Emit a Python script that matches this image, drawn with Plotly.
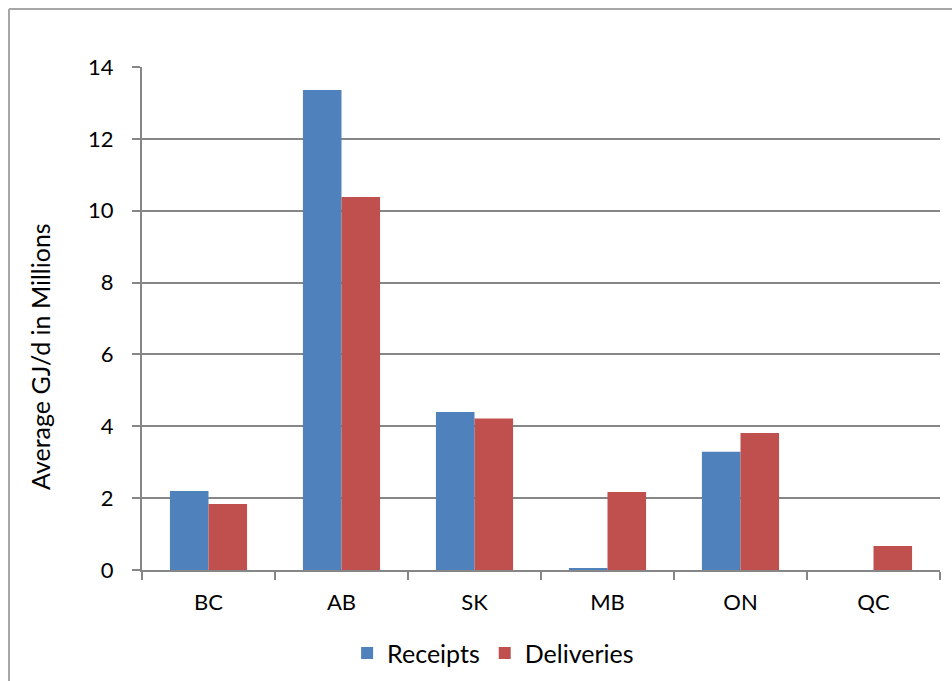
import plotly.graph_objects as go

provinces = ["BC", "AB", "SK", "MB", "ON", "QC"]
receipts = [2.20, 13.36, 4.40, 0.05, 3.29, 0.0]
deliveries = [1.84, 10.38, 4.22, 2.17, 3.81, 0.67]
y_ticks = [0, 2, 4, 6, 8, 10, 12, 14]

BLUE = "#4F81BD"
RED = "#C0504D"
GRID = "#868686"
FONT = "Lato, Open Sans, sans-serif"

fig = go.Figure()
fig.add_trace(go.Bar(name="Receipts", x=provinces, y=receipts,
                     marker=dict(color=BLUE, line=dict(width=0))))
fig.add_trace(go.Bar(name="Deliveries", x=provinces, y=deliveries,
                     marker=dict(color=RED, line=dict(width=0))))

# plot area geometry (px) for the outer frame lines and title placement
L, R, T, B = 142, 12, 67, 111
W, H = 952, 681
pw, ph = W - L - R, H - T - B

def px_x(x):
    return (x - L) / pw

def px_y(y):
    return (H - B - y) / ph

fig.update_layout(
    width=W, height=H,
    margin=dict(l=L, r=R, t=T, b=B, autoexpand=False),
    paper_bgcolor="white", plot_bgcolor="white",
    barmode="group", bargap=0.42, bargroupgap=0,
    font=dict(family=FONT, size=22, color="#000000"),
    showlegend=True,
    legend=dict(orientation="h", x=0.44, xanchor="center", y=-0.12, yanchor="top",
                font=dict(family=FONT, size=25), itemwidth=30,
                traceorder="normal"),
    xaxis=dict(
        type="category", showgrid=False, showline=True, linecolor=GRID, linewidth=2,
        ticks="outside", tickson="boundaries", ticklen=8, tickwidth=2, tickcolor=GRID,
        tickfont=dict(family=FONT, size=22), zeroline=False, automargin=False,
        ticklabelstandoff=12,
    ),
    yaxis=dict(
        range=[0, 14], tickvals=y_ticks, showgrid=True, gridcolor=GRID, gridwidth=2,
        showline=True, linecolor=GRID, linewidth=2,
        ticks="outside", ticklen=8, tickwidth=2, tickcolor=GRID,
        tickfont=dict(family=FONT, size=22), zeroline=False, automargin=False,
        ticklabelstandoff=14,
    ),
    annotations=[
        dict(text="Average GJ/d in Millions", textangle=-90, showarrow=False,
             xref="paper", yref="paper", x=px_x(40), y=px_y(357),
             xanchor="center", yanchor="middle",
             font=dict(family=FONT, size=25, color="#000000")),
    ],
    shapes=[
        dict(type="line", xref="paper", yref="paper",
             x0=px_x(9), x1=px_x(W + 5), y0=px_y(9), y1=px_y(9),
             line=dict(color="#A6A6A6", width=2)),
        dict(type="line", xref="paper", yref="paper",
             x0=px_x(9), x1=px_x(9), y0=px_y(9), y1=px_y(H + 5),
             line=dict(color="#A6A6A6", width=2)),
    ],
)

fig.write_html("out.html")
